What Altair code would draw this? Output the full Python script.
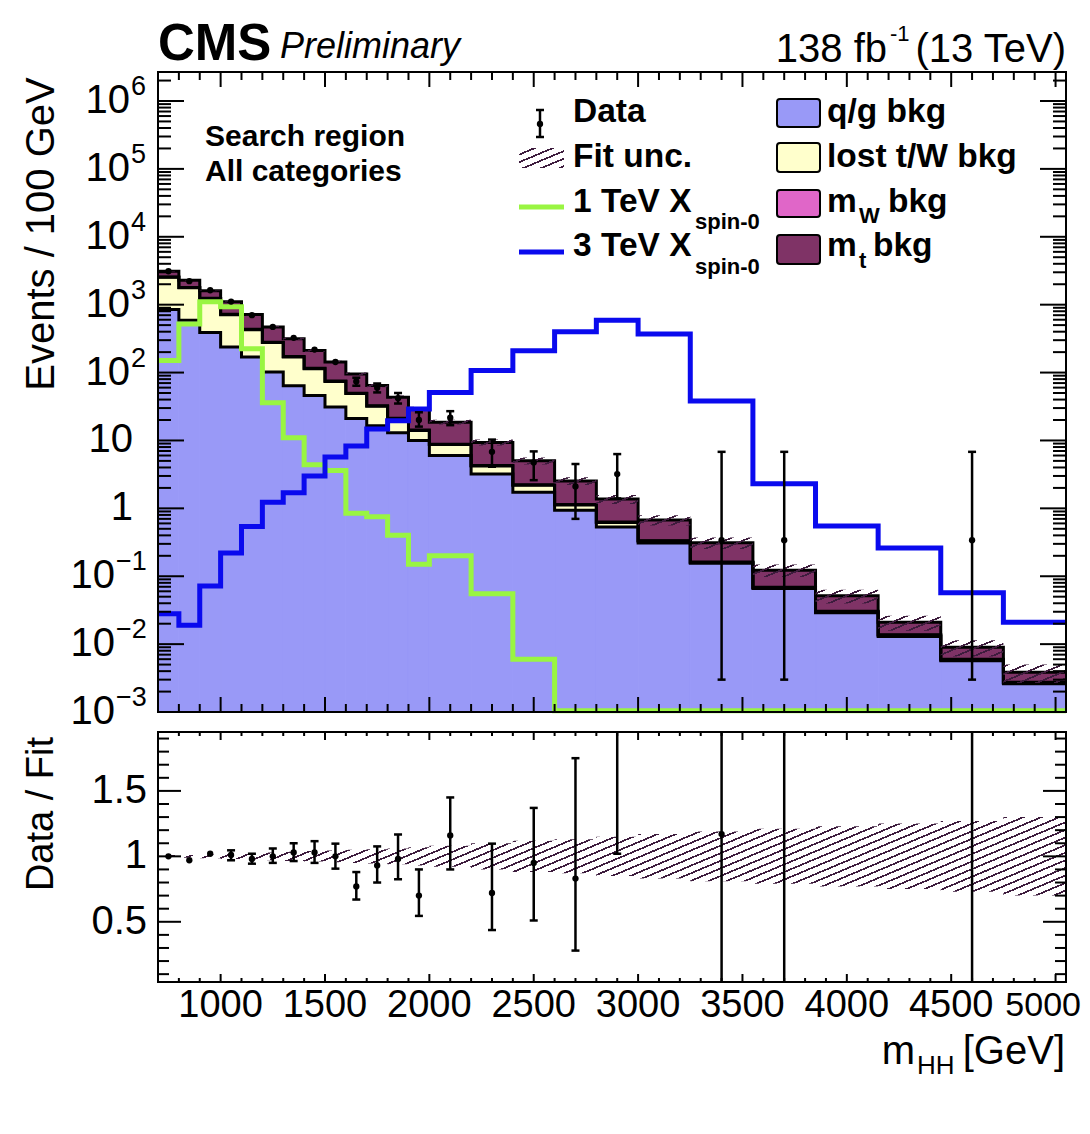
import altair as alt
import numpy as np
import pandas as pd

FONT = "Liberation Sans"

# ---------------- values ----------------
edges = [700, 800, 900, 1000, 1100, 1200, 1300, 1400, 1500, 1600, 1700, 1800, 1900,
         2000, 2200, 2400, 2600, 2800, 3000, 3250, 3550, 3850, 4150, 4450, 4750, 5050]
qg_bkg = [850, 590, 390, 238, 170, 102, 64, 46, 31, 21, 16.5, 13, 10, 6.0, 3.2, 1.72,
          0.94, 0.53, 0.31, 0.155, 0.066, 0.029, 0.013, 0.0057, 0.0026]
lost_bkg = [1690, 1190, 840, 475, 258, 175, 106, 68, 43, 28, 15.5, 8.0, 4.0, 2.7, 1.0,
            0.47, 0.18, 0.09, 0.02, 0.005, 0.002, 0.001, 0.0005, 0.0002, 0.0001]
mw_bkg = [20, 15, 10, 7, 5, 3, 2, 1.5, 1.0, 0.6, 0.4, 0.3, 0.2, 0.12, 0.06, 0.03, 0.015,
          0.008, 0.004, 0.002, 0.001, 0.0004, 0.0002, 0.0001, 0.00004]
mt_bkg = [550, 495, 360, 380, 281, 190, 144, 96, 68, 46, 32, 22, 15, 9.8, 5.1, 2.8, 1.4,
          0.74, 0.34, 0.15, 0.054, 0.021, 0.0073, 0.0030, 0.0011]
fit_unc = [0.01, 0.01, 0.015, 0.02, 0.025, 0.03, 0.035, 0.04, 0.045, 0.05, 0.055, 0.06,
           0.07, 0.08, 0.10, 0.12, 0.13, 0.15, 0.17, 0.19, 0.21, 0.23, 0.25, 0.27, 0.30]
sig_1tev = [150, 520, 1100, 930, 225, 36, 11, 4.4, 3.6, 0.85, 0.75, 0.4, 0.15, 0.2, 0.055,
            0.006, 0, 0, 0, 0, 0, 0, 0, 0, 0]
sig_3tev = [0.028, 0.019, 0.072, 0.22, 0.54, 1.23, 1.7, 3.0, 5.7, 8.3, 14.8, 19.5, 29, 51,
            107, 210, 400, 590, 370, 38, 2.3, 0.55, 0.26, 0.057, 0.021]

data_mass = [750, 850, 950, 1050, 1150, 1250, 1350, 1450, 1550, 1650, 1750, 1850, 1950,
             2100, 2300, 2500, 2700, 2900, 3400, 3700, 4600]
data_val = [3110, 2220, 1630, 1110, 700, 470, 325, 218, 143, 74, 60, 42, 20, 21.6, 6.8,
            4.75, 2.1, 3.2, 0.34, 0.34, 0.34]
data_lo = [3080, 2200, 1615, 1075, 675, 447, 305, 200, 130, 64, 51, 35, 16, 16.8, 4.1,
           2.6, 0.7, 1.4, 0.003, 0.003, 0.003]
data_hi = [3140, 2245, 1650, 1145, 728, 493, 347, 236, 157, 84, 69, 50, 26, 27, 10.3,
           6.9, 4.5, 6.3, 6.8, 6.8, 6.8]
ratio_val = [1.00, 0.97, 1.02, 1.01, 0.98, 1.00, 1.03, 1.03, 1.00, 0.77, 0.93, 0.98, 0.70,
             1.16, 0.72, 0.95, 0.83, 2.30, 1.17, 2.70, 37.0]
ratio_lo = [1.00, 0.97, 1.02, 0.97, 0.944, 0.95, 0.964, 0.95, 0.906, 0.67, 0.80, 0.825,
            0.545, 0.90, 0.437, 0.51, 0.28, 1.02, 0.0, 0.0, 0.0]
ratio_hi = [1.00, 0.97, 1.02, 1.046, 1.02, 1.06, 1.10, 1.116, 1.097, 0.88, 1.076, 1.167,
            0.90, 1.45, 1.097, 1.37, 1.75, 3.5, 3.0, 6.0, 80.0]

x_major = [1000, 1500, 2000, 2500, 3000, 3500, 4000, 4500, 5000]
x_labels = ["1000", "1500", "2000", "2500", "3000", "3500", "4000", "4500", "5000"]
y1_major = [1e-3, 1e-2, 1e-1, 1.0, 10.0, 1e2, 1e3, 1e4, 1e5, 1e6]
y1_base = ["10", "10", "10", "1", "10", "10", "10", "10", "10", "10"]
y1_exp = ["\u22123", "\u22122", "\u22121", "", "", "2", "3", "4", "5", "6"]
y2_major = [0.5, 1.0, 1.5]
y2_labels = ["0.5", "1", "1.5"]

comp_names = ["q/g bkg", "lost t/W bkg", "mW bkg", "mt bkg"]
comp_colors = ["#9999f7", "#ffffcc", "#e066c8", "#7f3366"]
C_GREEN = "#99f542"
C_BLUE = "#0a0aee"
HATCH = "#3d1c3d"

# ---------------- geometry (plot origin = top-left of upper frame) ----------------
W = 908
H1, GAP, H2 = 640, 20, 250
HT = H1 + GAP + H2
DEC_PX = 67.9
Y1_MIN = 1e-3
Y1_MAX = 10 ** (6 + 29 / DEC_PX)
Y1_BOT = 10 ** (-3 - (HT - H1) / DEC_PX)
Y2_LO, Y2_HI = 0.04, 1.95
Y2_TOP = Y2_LO + (Y2_HI - Y2_LO) * HT / H2
L2_TOP = H1 + GAP
PAD_R = 16

xsc = alt.Scale(domain=[edges[0], edges[-1]], nice=False, zero=False)
ysc1 = alt.Scale(type="log", domain=[Y1_BOT, Y1_MAX], nice=False)
ysc2 = alt.Scale(domain=[Y2_LO, Y2_TOP], nice=False, zero=False)

nb = len(edges) - 1
lo_e, hi_e = edges[:-1], edges[1:]
comps = [np.array(v, dtype=float) for v in (qg_bkg, lost_bkg, mw_bkg, mt_bkg)]
total = sum(comps)
unc = np.array(fit_unc)


def hatch_fill(w, h, slope=0.42, period=7.0, thick=1.7, color=HATCH):
    r = slope * w / h
    b = (r + 1.0) / (r * r + 1.0)
    a = r * b
    n2 = a * a + b * b
    dt = np.hypot(a / w, b / h) / n2
    pt = period * dt
    ft = thick * dt
    clear = "rgba(255,255,255,0)"
    stops = []
    t = 0.0
    while t < 1.0:
        s1 = min(t + pt - ft, 1.0)
        s2 = min(t + pt, 1.0)
        stops += [(t, clear), (s1, clear), (s1, color), (s2, color)]
        t += pt
    return alt.LinearGradient(gradient="linear", x1=0, y1=0, x2=float(a), y2=float(b),
                              stops=[alt.GradientStop(color=c, offset=float(o)) for o, c in stops])


def X(field="x"):
    return alt.X(f"{field}:Q", scale=xsc, axis=None)


def Y1(field="y"):
    return alt.Y(f"{field}:Q", scale=ysc1, axis=None)


def Y2(field="y"):
    return alt.Y(f"{field}:Q", scale=ysc2, axis=None)


def ext(vals):
    return list(vals) + [vals[-1]]


def step_df(vals, name):
    return pd.DataFrame({"x": edges, "y": ext(vals), "s": name, "o": list(range(len(edges)))})


ONE = pd.DataFrame({"a": [0]})


def text(s, x, y, size, weight="normal", style="normal", align="left",
         baseline="alphabetic", angle=0):
    kw = dict(text=s, font=FONT, fontSize=size, fontWeight=weight, fontStyle=style,
              align=align, baseline=baseline, color="black")
    if angle:
        kw["angle"] = angle
    return alt.Chart(ONE).mark_text(**kw).encode(x=alt.value(x), y=alt.value(y))


def box(x0, x1, y0, y1, **kw):
    return alt.Chart(ONE).mark_rect(**kw).encode(
        x=alt.value(x0), x2=alt.value(x1), y=alt.value(y0), y2=alt.value(y1))


def hrule(x0, x1, y, color, width):
    return alt.Chart(ONE).mark_rule(color=color, strokeWidth=width).encode(
        x=alt.value(x0), x2=alt.value(x1), y=alt.value(y))


def vrule(x, y0, y1, color, width):
    return alt.Chart(ONE).mark_rule(color=color, strokeWidth=width).encode(
        x=alt.value(x), y=alt.value(y0), y2=alt.value(y1))


# ---------------- upper panel ----------------
rows = []
cum = np.zeros(nb)
for name, vals in zip(comp_names, comps):
    top = cum + vals
    bottom = np.where(cum > 0, cum, Y1_MIN)
    for i in range(nb):
        rows.append(dict(x0=lo_e[i], x1=hi_e[i], y0=bottom[i], y1=top[i], comp=name))
    cum = top
comp_scale = alt.Scale(domain=comp_names, range=comp_colors)
stack = alt.Chart(pd.DataFrame(rows)).mark_rect(strokeWidth=1, clip=True).encode(
    x=X("x0"), x2="x1", y=Y1("y0"), y2="y1",
    color=alt.Color("comp:N", scale=comp_scale, legend=None),
    stroke=alt.Stroke("comp:N", scale=comp_scale, legend=None))

cum = np.zeros(nb)
outl = []
for name, vals in zip(comp_names, comps):
    cum = cum + vals
    outl.append(step_df(cum, name))
outline = alt.Chart(pd.concat(outl)).mark_line(
    interpolate="step-after", color="black", strokeWidth=3, clip=True).encode(
    x=X(), y=Y1(), detail="s:N", order="o:Q")

band_hi = total * (1 + unc)
band_lo = total * (1 - unc)
band_df = pd.DataFrame({"x": edges, "hi": ext(band_hi), "lo": ext(band_lo)})
h_up = (np.log10(band_hi.max()) - np.log10(band_lo.min())) * DEC_PX
band1 = alt.Chart(band_df).mark_area(
    interpolate="step-after", fill=hatch_fill(W, h_up), opacity=1, clip=True).encode(
    x=X(), y=Y1("hi"), y2="lo")

floor = 10 ** (np.log10(Y1_MIN) + 1.2 / DEC_PX)
sig_layers = []
for vals, col in ((sig_1tev, C_GREEN), (sig_3tev, C_BLUE)):
    sig_layers.append(alt.Chart(step_df(np.maximum(vals, floor), "s")).mark_line(
        interpolate="step-after", strokeWidth=5, color=col, clip=True).encode(
        x=X(), y=Y1(), order="o:Q"))

d_df = pd.DataFrame({"x": data_mass, "y": data_val, "lo": data_lo, "hi": data_hi})
d_df["len"] = (np.log10(d_df.hi) - np.log10(d_df.lo)) * DEC_PX
err1 = alt.Chart(d_df).mark_rule(color="black", strokeWidth=2.5, clip=True).encode(
    x=X(), y=Y1("lo"), y2="hi")
cap_df1 = d_df[d_df["len"] > 7]
caps1 = [alt.Chart(cap_df1).mark_point(
    shape="M-1,0L1,0", size=64, filled=False, strokeWidth=2.5, color="black", opacity=1,
    clip=True).encode(x=X(), y=Y1(f)) for f in ("lo", "hi")]
pts1 = alt.Chart(d_df).mark_circle(size=40, color="black", opacity=1, clip=True).encode(
    x=X(), y=Y1())

# ---------------- lower panel ----------------
u_hi = 1 + unc
u_lo = 1 - unc
rb_df = pd.DataFrame({"x": edges, "hi": ext(u_hi), "lo": ext(u_lo)})
h_lo = (u_hi.max() - u_lo.min()) * H2 / (Y2_HI - Y2_LO)
band2 = alt.Chart(rb_df).mark_area(
    interpolate="step-after", fill=hatch_fill(W, h_lo), opacity=1, clip=True).encode(
    x=X(), y=Y2("hi"), y2="lo")

r_df = pd.DataFrame({"x": data_mass, "y": ratio_val, "lo": ratio_lo, "hi": ratio_hi})
r_df["lo_c"] = r_df["lo"].clip(Y2_LO, Y2_HI)
r_df["hi_c"] = r_df["hi"].clip(Y2_LO, Y2_HI)
err2 = alt.Chart(r_df[r_df.hi_c > r_df.lo_c]).mark_rule(
    color="black", strokeWidth=2.5, clip=True).encode(x=X(), y=Y2("lo_c"), y2="hi_c")
r_df["len"] = (r_df.hi - r_df.lo) * H2 / (Y2_HI - Y2_LO)
caps2 = []
for f in ("lo", "hi"):
    sub = r_df[(r_df["len"] > 5) & (r_df[f] >= Y2_LO) & (r_df[f] <= Y2_HI)]
    caps2.append(alt.Chart(sub).mark_point(
        shape="M-1,0L1,0", size=64, filled=False, strokeWidth=2.5, color="black", opacity=1,
        clip=True).encode(x=X(), y=Y2(f)))
pts2 = alt.Chart(r_df[(r_df.y >= Y2_LO) & (r_df.y <= Y2_HI)]).mark_circle(
    size=40, color="black", opacity=1, clip=True).encode(x=X(), y=Y2())

# ---------------- frames, ticks, labels ----------------
frames = [box(0, W, 0, H1, fillOpacity=0, stroke="black", strokeWidth=2),
          box(0, W, L2_TOP, HT, fillOpacity=0, stroke="black", strokeWidth=2)]

x_minor = [v for v in range(800, 5001, 100) if v not in x_major]
xt_df = pd.DataFrame({"x": x_major + x_minor,
                      "L": ["M"] * len(x_major) + ["m"] * len(x_minor)})


def xticks(top, bottom, lmaj, lmin):
    out = []
    for kind, ln in (("M", lmaj), ("m", lmin)):
        sub = xt_df[xt_df.L == kind]
        out.append(alt.Chart(sub).mark_rule(color="black", strokeWidth=2).encode(
            x=X(), y=alt.value(bottom), y2=alt.value(bottom - ln)))
        out.append(alt.Chart(sub).mark_rule(color="black", strokeWidth=2).encode(
            x=X(), y=alt.value(top), y2=alt.value(top + ln)))
    return out


def yticks(df, yenc, lmaj, lmin):
    out = []
    for kind, ln in (("M", lmaj), ("m", lmin)):
        sub = df[df.L == kind]
        out.append(alt.Chart(sub).mark_rule(color="black", strokeWidth=2).encode(
            y=yenc(), x=alt.value(0), x2=alt.value(ln)))
        out.append(alt.Chart(sub).mark_rule(color="black", strokeWidth=2).encode(
            y=yenc(), x=alt.value(W), x2=alt.value(W - ln)))
    return out


y1_minor = [j * 10.0 ** k for k in range(-3, 7) for j in range(2, 10) if j * 10.0 ** k < Y1_MAX]
yt1_df = pd.DataFrame({"y": y1_major + y1_minor,
                       "L": ["M"] * len(y1_major) + ["m"] * len(y1_minor)})
y2_minor = [round(0.1 * k, 2) for k in range(1, 20) if k not in (5, 10, 15)]
yt2_df = pd.DataFrame({"y": y2_major + y2_minor,
                       "L": ["M"] * len(y2_major) + ["m"] * len(y2_minor)})

ticks = (xticks(0, H1, 15, 8) + yticks(yt1_df, Y1, 26, 13)
         + xticks(L2_TOP, HT, 8, 4) + yticks(yt2_df, Y2, 23, 11))

lab_df = pd.DataFrame({"y": y1_major, "base": y1_base, "exp": y1_exp})
lab_df["n"] = lab_df["exp"].str.len()
ylabels1 = []
for n, xb in ((0, -25), (1, -28), (2, -43)):
    sub = lab_df[lab_df.n == n]
    ylabels1.append(alt.Chart(sub).mark_text(
        font=FONT, fontSize=40, align="right", baseline="middle", color="black").encode(
        text="base:N", x=alt.value(xb), y=Y1()))
    if n > 0:
        ylabels1.append(alt.Chart(sub).mark_text(
            font=FONT, fontSize=27, align="left", baseline="middle", dy=-14, color="black").encode(
            text="exp:N", x=alt.value(xb + 1), y=Y1()))

ylabels2 = alt.Chart(pd.DataFrame({"y": y2_major, "t": y2_labels})).mark_text(
    font=FONT, fontSize=40, align="right", baseline="middle", color="black").encode(
    text="t:N", x=alt.value(-11), y=Y2())
xl_df = pd.DataFrame({"x": x_major, "t": x_labels})
xlabels2 = alt.Chart(xl_df.iloc[:-1]).mark_text(
    font=FONT, fontSize=38, align="center", baseline="alphabetic", color="black").encode(
    text="t:N", x=X(), y=alt.value(945))
# the last label sits at the page edge: slightly smaller and kept inside the page
xlabel_last = alt.Chart(xl_df.iloc[-1:]).mark_text(
    font=FONT, fontSize=34, align="right", baseline="alphabetic", color="black").encode(
    text="t:N", x=alt.value(W + PAD_R - 1), y=alt.value(944))

texts = [
    text("CMS", 0, -12, 51, weight="bold"),
    text("Preliminary", 122, -14, 36, style="italic"),
    text("138 fb", 729, -10, 40, align="right"),
    text("-1", 732, -31, 22),
    text("(13 TeV)", 908, -10, 40, align="right"),
    text("Search region", 47, 74, 30, weight="bold"),
    text("All categories", 47, 109, 30, weight="bold"),
    text("Events / 100 GeV", -116, 162, 40, align="center", baseline="middle", angle=270),
    text("Data / Fit", -116, 742, 38, align="center", baseline="middle", angle=270),
    text("m", 757, 992, 40, align="right"),
    text("HH", 759, 1002, 26),
    text("[GeV]", 907, 992, 40, align="right"),
]

# legend
LT = 33.5
C2 = 669
legend = [
    vrule(382, 38, 65, "black", 2.5),
    hrule(378, 386, 38, "black", 2.5),
    hrule(378, 386, 65, "black", 2.5),
    alt.Chart(ONE).mark_circle(size=40, color="black", opacity=1).encode(
        x=alt.value(382), y=alt.value(52)),
    text("Data", 415, 40, LT, weight="bold", baseline="middle"),
    box(361, 406, 76, 96, fill=hatch_fill(45, 20)),
    text("Fit unc.", 415, 85, LT, weight="bold", baseline="middle"),
    hrule(361, 406, 135, C_GREEN, 5),
    text("1 TeV X", 415, 130, LT, weight="bold", baseline="middle"),
    text("spin-0", 537, 150, 22, weight="bold", baseline="middle"),
    hrule(361, 406, 180, C_BLUE, 5),
    text("3 TeV X", 415, 174, LT, weight="bold", baseline="middle"),
    text("spin-0", 537, 195, 22, weight="bold", baseline="middle"),
]
for col, (y0, y1) in zip(comp_colors, [(27, 55), (71, 100), (118, 145), (163, 192)]):
    legend.append(box(619, 662, y0, y1, fill=col, stroke="black", strokeWidth=2,
                      cornerRadius=3))
legend += [
    text("q/g bkg", C2, 40, LT, weight="bold", baseline="middle"),
    text("lost t/W bkg", C2, 85, LT, weight="bold", baseline="middle"),
    text("m", C2, 130, LT, weight="bold", baseline="middle"),
    text("W", C2 + 32, 144, 22, weight="bold", baseline="middle"),
    text("bkg", C2 + 61, 130, LT, weight="bold", baseline="middle"),
    text("m", C2, 174, LT, weight="bold", baseline="middle"),
    text("t", C2 + 32, 189, 22, weight="bold", baseline="middle"),
    text("bkg", C2 + 46, 174, LT, weight="bold", baseline="middle"),
]

chart = alt.layer(
    stack, outline, band1, *sig_layers, err1, *caps1, pts1,
    band2, err2, *caps2, pts2,
    *ticks, *frames, *ylabels1, ylabels2, xlabels2, xlabel_last, *texts, *legend,
).resolve_scale(y="independent").properties(
    width=W, height=HT,
    autosize=alt.AutoSizeParams(type="none"),
    padding={"left": 150, "top": 64, "right": PAD_R, "bottom": 110},
).configure_view(strokeWidth=0)

chart.save("out.html", embed_options={"renderer": "svg", "actions": False})
